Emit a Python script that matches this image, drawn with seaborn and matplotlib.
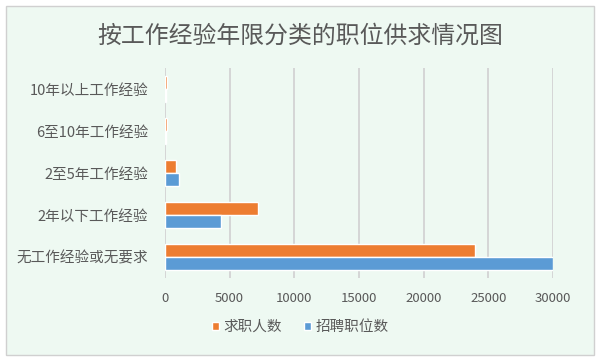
import numpy as np
import pandas as pd
import matplotlib
matplotlib.use("Agg")
import matplotlib.pyplot as plt
import seaborn as sb
from matplotlib.patches import Rectangle

# data (top to bottom)
categories = ["10年以上工作经验", "6至10年工作经验", "2至5年工作经验", "2年以下工作经验", "无工作经验或无要求"]
seekers = [120, 130, 830, 7170, 24000]      # 求职人数
positions = [80, 100, 1090, 4350, 30000]    # 招聘职位数
series_names = ["求职人数", "招聘职位数"]
x_ticks = [0, 5000, 10000, 15000, 20000, 25000, 30000]

sb.set_style("white")
plt.rcParams["font.family"] = ["Noto Sans CJK SC", "DejaVu Sans"]

t = pd.DataFrame({
    "类别": categories * 2,
    "数值": seekers + positions,
    "系列": [series_names[0]] * len(categories) + [series_names[1]] * len(categories),
})

fig = plt.figure(figsize=(6, 3.61), dpi=100, facecolor="white")
fig.patches.append(Rectangle((6 / 600, 1 - 355 / 361), 588 / 600, 349 / 361,
                             transform=fig.transFigure, facecolor="#EEF9F2",
                             edgecolor="#D0D0D0", linewidth=1, zorder=-10))

ax = fig.add_axes([165 / 600, 1 - 278 / 361, 388 / 600, 210 / 361])
ax.set_facecolor("none")

sb.barplot(data=t, y="类别", x="数值", hue="系列", order=categories,
           hue_order=series_names, palette=["#ED7D31", "#5B9BD5"],
           orient="h", width=0.63, gap=0, saturation=1, ax=ax)

ax.set_xlim(0, 30000)
ax.set_ylim(4.5, -0.5)
ax.set_xticks(x_ticks)
ax.set_xticklabels([str(v) for v in x_ticks], fontsize=9.5, color="#595959")
ax.tick_params(axis="y", labelsize=10.5, labelcolor="#595959", length=0, pad=12)
ax.tick_params(axis="x", length=0, pad=10)
ax.set_xlabel("")
ax.set_ylabel("")
ax.grid(axis="x", color="#D3D3D3", linewidth=1.3)
ax.set_axisbelow(True)
for s in ax.spines.values():
    s.set_visible(False)

h, l = ax.get_legend_handles_labels()
ax.get_legend().remove()
fig.legend(h, l, loc="center", bbox_to_anchor=(0.5, 1 - 327 / 361), ncol=2,
           frameon=False, handlelength=0.5, handleheight=0.5, handletextpad=0.3,
           columnspacing=1.5, prop={"size": 10.5}, labelcolor="#595959")

fig.text(0.5, 1 - 36 / 361, "按工作经验年限分类的职位供求情况图", ha="center", va="center",
         fontsize=17.2, color="#595959")

fig.savefig("out.png", dpi=100, facecolor="white")
